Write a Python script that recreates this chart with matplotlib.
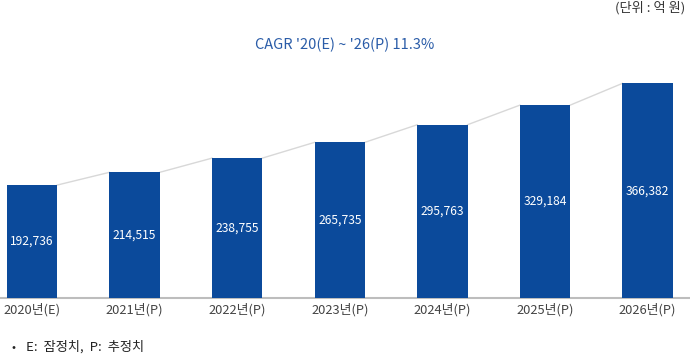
import matplotlib
matplotlib.use("Agg")
import matplotlib.pyplot as plt
import numpy as np

plt.rcParams['font.family'] = ['Noto Sans CJK KR', 'DejaVu Sans']

categories = ["2020년(E)", "2021년(P)", "2022년(P)", "2023년(P)", "2024년(P)", "2025년(P)", "2026년(P)"]
values = [192736, 214515, 238755, 265735, 295763, 329184, 366382]
title_text = "CAGR '20(E) ~ '26(P) 11.3%"
unit_text = "(단위 : 억 원)"
note_bullet = "•"
note_text = "E:  잠정치,  P:  추정치"

bar_color = "#0b4a9b"
width = 0.49

fig = plt.figure(figsize=(6.9, 3.55), dpi=100)
ax = fig.add_axes([0, 0.1606, 1, 0.67])

x = np.arange(len(categories))
ax.bar(x, values, width=width, color=bar_color, zorder=3)

# trend connectors between bar tops
for i in range(len(values) - 1):
    ax.plot([x[i] + width / 2, x[i + 1] - width / 2], [values[i], values[i + 1]],
            color="#d8d8d8", lw=1.0, zorder=2)

for xi, v in zip(x, values):
    ax.text(xi, v / 2, f"{v:,}", ha="center", va="center", color="white", fontsize=8.7)

ax.set_xlim(-0.312, 6.413)
ax.set_ylim(0, 406000)
ax.set_xticks(x)
ax.set_xticklabels(categories, fontsize=9.3, color="#444444")
ax.tick_params(axis="x", length=0, pad=4)
ax.set_yticks([])
for s in ["top", "right", "left"]:
    ax.spines[s].set_visible(False)
ax.spines["bottom"].set_color("#bdbdbd")
ax.spines["bottom"].set_linewidth(1.5)

fig.text(0.5, 0.873, title_text, ha="center", va="center", color="#2a5ca8", fontsize=10.5)
fig.text(0.993, 0.977, unit_text, ha="right", va="center", color="#333333",
         fontsize=9.5)
fig.text(0.016, 0.022, note_bullet, ha="left", va="center", color="#222222", fontsize=8.5)
fig.text(0.038, 0.022, note_text, ha="left", va="center", color="#222222",
         fontsize=9.5)

fig.savefig("out.png", dpi=100)
